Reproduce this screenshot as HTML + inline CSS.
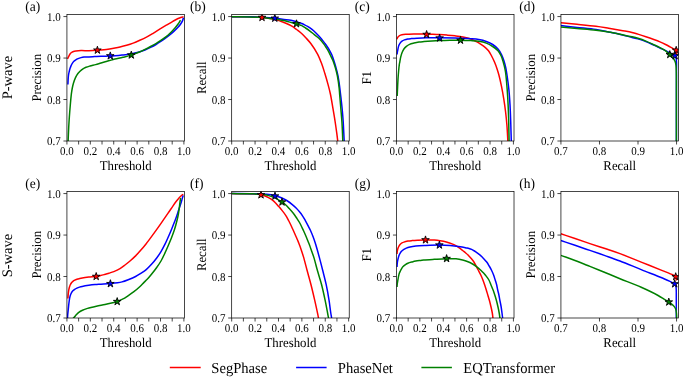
<!DOCTYPE html>
<html><head><meta charset="utf-8"><style>
html,body{margin:0;padding:0;background:#fff;}
svg{display:block;will-change:transform;}
text{font-family:"Liberation Serif", serif;fill:#000;text-rendering:geometricPrecision;}
</style></head><body>
<svg width="685" height="378" viewBox="0 0 685 378">
<defs><clipPath id="cpa"><rect x="66.93" y="14.50" width="117.55" height="126.50"/></clipPath><clipPath id="cpb"><rect x="231.68" y="14.50" width="117.55" height="126.50"/></clipPath><clipPath id="cpc"><rect x="396.46" y="14.50" width="117.55" height="126.50"/></clipPath><clipPath id="cpd"><rect x="560.93" y="14.50" width="117.55" height="126.50"/></clipPath><clipPath id="cpe"><rect x="66.93" y="191.50" width="117.55" height="126.50"/></clipPath><clipPath id="cpf"><rect x="231.68" y="191.50" width="117.55" height="126.50"/></clipPath><clipPath id="cpg"><rect x="396.46" y="191.50" width="117.55" height="126.50"/></clipPath><clipPath id="cph"><rect x="560.93" y="191.50" width="117.55" height="126.50"/></clipPath></defs>
<g clip-path="url(#cpa)" fill="none" stroke-width="1.5" stroke-linejoin="round">
<path d="M67.50,58.80 C67.73,58.37 67.96,57.98 68.20,57.50 C68.49,56.93 68.77,56.22 69.10,55.60 C69.43,54.98 69.78,54.33 70.20,53.80 C70.59,53.31 70.99,52.87 71.50,52.50 C72.07,52.09 72.78,51.75 73.50,51.50 C74.27,51.24 75.02,51.14 76.00,51.00 C77.38,50.81 79.14,50.66 81.00,50.60 C83.35,50.52 86.29,50.75 89.00,50.70 C91.79,50.65 94.86,50.48 97.50,50.30 C99.81,50.14 101.92,49.94 104.00,49.70 C105.94,49.47 107.75,49.19 109.60,48.90 C111.42,48.62 113.24,48.32 115.00,48.00 C116.70,47.69 118.22,47.41 120.00,47.00 C122.05,46.53 124.41,45.95 126.60,45.30 C128.81,44.65 131.02,43.93 133.20,43.10 C135.42,42.26 137.60,41.29 139.80,40.30 C142.04,39.29 144.30,38.26 146.50,37.10 C148.73,35.93 150.91,34.61 153.10,33.30 C155.31,31.98 157.50,30.55 159.70,29.20 C161.90,27.85 164.10,26.52 166.30,25.20 C168.50,23.89 171.07,22.34 172.90,21.30 C174.18,20.57 175.09,20.05 176.20,19.50 C177.29,18.96 178.39,18.42 179.50,18.00 C180.59,17.59 182.07,17.20 182.80,17.00 C183.16,16.90 183.33,16.87 183.60,16.80" stroke="#ff0000"/>
<path d="M67.90,84.50 C68.00,82.50 68.07,80.30 68.20,78.50 C68.31,77.03 68.41,75.72 68.60,74.50 C68.76,73.45 68.97,72.57 69.20,71.60 C69.44,70.61 69.69,69.57 70.00,68.60 C70.30,67.67 70.61,66.77 71.00,65.90 C71.38,65.04 71.81,64.18 72.30,63.40 C72.78,62.65 73.30,61.91 73.90,61.30 C74.47,60.72 75.11,60.24 75.80,59.80 C76.51,59.34 77.27,58.96 78.10,58.60 C79.00,58.21 80.02,57.87 81.00,57.60 C81.98,57.33 82.87,57.12 84.00,57.00 C85.45,56.84 87.27,56.96 89.00,56.90 C90.86,56.83 92.83,56.70 94.80,56.60 C96.83,56.50 98.72,56.39 101.00,56.30 C103.81,56.19 107.82,56.13 110.40,56.00 C112.21,55.91 113.31,55.83 115.00,55.70 C117.09,55.54 119.87,55.30 122.00,55.10 C123.78,54.93 125.32,54.84 126.90,54.60 C128.41,54.37 129.92,53.96 131.30,53.70 C132.53,53.47 133.53,53.38 134.80,53.10 C136.37,52.75 138.29,52.22 140.00,51.70 C141.69,51.19 143.30,50.68 145.00,50.00 C146.83,49.27 148.76,48.32 150.60,47.40 C152.43,46.48 154.24,45.53 156.00,44.50 C157.77,43.47 159.47,42.36 161.20,41.20 C162.98,40.00 164.93,38.59 166.50,37.40 C167.80,36.41 168.76,35.63 170.00,34.60 C171.44,33.40 173.26,31.83 174.60,30.60 C175.69,29.60 176.55,28.82 177.50,27.80 C178.52,26.70 179.63,25.44 180.50,24.20 C181.32,23.03 182.11,21.75 182.60,20.60 C183.01,19.63 183.13,18.73 183.40,17.80" stroke="#0000ff"/>
<path d="M68.10,141.50 C68.20,139.00 68.30,136.41 68.40,134.00 C68.50,131.76 68.57,129.96 68.70,127.50 C68.88,124.25 69.13,119.96 69.40,116.20 C69.67,112.46 69.97,108.74 70.30,105.00 C70.63,101.24 71.00,96.82 71.40,93.70 C71.68,91.47 71.94,89.83 72.30,88.00 C72.64,86.27 72.99,84.68 73.50,83.00 C74.04,81.22 74.72,79.25 75.50,77.60 C76.21,76.11 77.06,74.63 77.90,73.50 C78.58,72.58 79.23,71.92 80.00,71.20 C80.79,70.45 81.64,69.73 82.60,69.10 C83.63,68.42 84.80,67.81 86.00,67.30 C87.26,66.77 88.54,66.42 90.00,66.00 C91.72,65.51 93.84,65.11 95.70,64.60 C97.51,64.11 99.18,63.53 101.00,63.00 C102.94,62.43 105.09,61.84 107.00,61.30 C108.74,60.81 110.54,60.30 112.00,59.90 C113.13,59.59 113.76,59.41 115.00,59.10 C117.00,58.60 120.23,57.95 122.90,57.30 C125.66,56.62 128.60,55.96 131.30,55.10 C133.89,54.28 136.44,53.29 138.80,52.30 C140.98,51.38 143.00,50.39 145.00,49.40 C146.92,48.45 148.76,47.48 150.60,46.50 C152.40,45.54 154.15,44.64 155.90,43.60 C157.69,42.54 159.45,41.40 161.20,40.20 C162.99,38.97 164.94,37.56 166.50,36.30 C167.81,35.24 168.94,34.18 170.00,33.20 C170.91,32.36 171.67,31.67 172.50,30.80 C173.40,29.85 174.28,28.80 175.20,27.70 C176.21,26.49 177.45,25.02 178.30,23.80 C178.99,22.81 179.57,21.64 180.00,21.00 C180.24,20.64 180.40,20.47 180.60,20.20" stroke="#008000"/>
<path d="M97.40,46.20 L96.50,48.96 L93.60,48.96 L95.95,50.67 L95.05,53.44 L97.40,51.73 L99.75,53.44 L98.85,50.67 L101.20,48.96 L98.30,48.96 Z" fill="#ff0000" stroke="#000" stroke-width="0.9" stroke-linejoin="miter"/>
<path d="M110.30,51.90 L109.40,54.66 L106.50,54.66 L108.85,56.37 L107.95,59.14 L110.30,57.43 L112.65,59.14 L111.75,56.37 L114.10,54.66 L111.20,54.66 Z" fill="#0000ff" stroke="#000" stroke-width="0.9" stroke-linejoin="miter"/>
<path d="M131.30,51.10 L130.40,53.86 L127.50,53.86 L129.85,55.57 L128.95,58.34 L131.30,56.63 L133.65,58.34 L132.75,55.57 L135.10,53.86 L132.20,53.86 Z" fill="#008000" stroke="#000" stroke-width="0.9" stroke-linejoin="miter"/>
</g>
<rect x="66.93" y="14.50" width="117.55" height="126.50" fill="none" stroke="#000" stroke-width="0.72"/>
<line x1="63.43" y1="141.00" x2="66.93" y2="141.00" stroke="#000" stroke-width="0.72"/>
<text transform="translate(60.73,145.30) scale(1,1.08)" text-anchor="end" font-size="11.0">0.7</text>
<line x1="63.43" y1="99.52" x2="66.93" y2="99.52" stroke="#000" stroke-width="0.72"/>
<text transform="translate(60.73,103.82) scale(1,1.08)" text-anchor="end" font-size="11.0">0.8</text>
<line x1="63.43" y1="58.05" x2="66.93" y2="58.05" stroke="#000" stroke-width="0.72"/>
<text transform="translate(60.73,62.35) scale(1,1.08)" text-anchor="end" font-size="11.0">0.9</text>
<line x1="63.43" y1="16.57" x2="66.93" y2="16.57" stroke="#000" stroke-width="0.72"/>
<text transform="translate(60.73,20.87) scale(1,1.08)" text-anchor="end" font-size="11.0">1.0</text>
<line x1="66.93" y1="141.00" x2="66.93" y2="144.50" stroke="#000" stroke-width="0.72"/>
<text transform="translate(66.93,155.20) scale(1,1.08)" text-anchor="middle" font-size="11.0">0.0</text>
<line x1="78.63" y1="141.00" x2="78.63" y2="144.50" stroke="#000" stroke-width="0.72"/>
<line x1="90.32" y1="141.00" x2="90.32" y2="144.50" stroke="#000" stroke-width="0.72"/>
<text transform="translate(90.32,155.20) scale(1,1.08)" text-anchor="middle" font-size="11.0">0.2</text>
<line x1="102.02" y1="141.00" x2="102.02" y2="144.50" stroke="#000" stroke-width="0.72"/>
<line x1="113.72" y1="141.00" x2="113.72" y2="144.50" stroke="#000" stroke-width="0.72"/>
<text transform="translate(113.72,155.20) scale(1,1.08)" text-anchor="middle" font-size="11.0">0.4</text>
<line x1="125.42" y1="141.00" x2="125.42" y2="144.50" stroke="#000" stroke-width="0.72"/>
<line x1="137.11" y1="141.00" x2="137.11" y2="144.50" stroke="#000" stroke-width="0.72"/>
<text transform="translate(137.11,155.20) scale(1,1.08)" text-anchor="middle" font-size="11.0">0.6</text>
<line x1="148.81" y1="141.00" x2="148.81" y2="144.50" stroke="#000" stroke-width="0.72"/>
<line x1="160.51" y1="141.00" x2="160.51" y2="144.50" stroke="#000" stroke-width="0.72"/>
<text transform="translate(160.51,155.20) scale(1,1.08)" text-anchor="middle" font-size="11.0">0.8</text>
<line x1="172.20" y1="141.00" x2="172.20" y2="144.50" stroke="#000" stroke-width="0.72"/>
<line x1="183.90" y1="141.00" x2="183.90" y2="144.50" stroke="#000" stroke-width="0.72"/>
<text transform="translate(183.90,155.20) scale(1,1.08)" text-anchor="middle" font-size="11.0">1.0</text>
<text transform="translate(125.71,169.80) scale(1,1.04)" text-anchor="middle" font-size="12.8">Threshold</text>
<text transform="translate(41.23,77.75) rotate(-90) scale(1,1.04)" text-anchor="middle" font-size="12.8">Precision</text>
<text transform="translate(25.33,11.30) scale(1,1.04)" font-size="13.5">(a)</text>
<g clip-path="url(#cpb)" fill="none" stroke-width="1.5" stroke-linejoin="round">
<path d="M231.70,16.80 C236.13,16.80 240.88,16.76 245.00,16.80 C248.57,16.84 251.98,16.86 255.00,17.00 C257.51,17.12 259.67,17.27 261.90,17.50 C264.00,17.71 265.92,17.98 268.00,18.30 C270.18,18.64 272.72,19.07 274.70,19.50 C276.30,19.85 277.53,20.13 279.00,20.60 C280.62,21.11 282.49,21.89 284.00,22.50 C285.28,23.02 286.35,23.47 287.50,24.00 C288.65,24.53 289.77,25.08 290.90,25.70 C292.07,26.34 293.26,27.03 294.40,27.80 C295.56,28.59 296.62,29.46 297.80,30.40 C299.11,31.45 300.56,32.57 301.90,33.80 C303.30,35.09 304.60,36.48 306.00,38.00 C307.56,39.69 309.14,41.29 310.80,43.50 C313.00,46.43 315.83,50.74 317.70,54.30 C319.38,57.50 320.51,60.61 321.70,63.80 C322.87,66.94 323.79,70.00 324.80,73.30 C325.89,76.85 327.04,80.83 328.00,84.40 C328.89,87.71 329.65,90.47 330.40,94.00 C331.31,98.26 332.10,103.54 332.90,108.20 C333.67,112.70 334.44,117.19 335.10,121.50 C335.73,125.57 336.32,129.81 336.80,133.40 C337.19,136.36 337.47,138.80 337.80,141.50" stroke="#ff0000"/>
<path d="M231.70,16.70 C237.80,16.73 244.54,16.69 250.00,16.80 C254.42,16.89 257.95,16.99 262.00,17.20 C266.15,17.42 271.48,17.78 274.60,18.10 C276.45,18.29 277.49,18.49 279.00,18.70 C280.61,18.92 282.20,19.16 284.00,19.40 C286.11,19.69 288.61,19.85 290.90,20.30 C293.21,20.75 295.82,21.50 297.80,22.10 C299.32,22.56 300.60,23.01 301.80,23.50 C302.83,23.92 303.66,24.33 304.60,24.80 C305.59,25.29 306.52,25.75 307.60,26.40 C308.95,27.22 310.59,28.29 312.00,29.40 C313.46,30.55 314.75,31.77 316.20,33.20 C317.90,34.88 319.96,37.06 321.50,38.90 C322.83,40.48 323.89,41.96 325.00,43.50 C326.08,45.00 327.18,46.55 328.10,48.00 C328.92,49.30 329.64,50.58 330.30,51.80 C330.89,52.90 331.42,53.90 331.90,55.00 C332.39,56.13 332.80,57.33 333.20,58.50 C333.60,59.66 333.93,60.79 334.30,62.00 C334.70,63.29 335.05,64.36 335.50,66.00 C336.21,68.58 337.30,72.50 338.00,76.00 C338.76,79.80 339.27,84.00 339.80,88.00 C340.33,92.00 340.79,96.38 341.20,100.00 C341.54,102.99 341.81,105.14 342.10,108.20 C342.48,112.10 342.91,117.19 343.20,121.50 C343.47,125.57 343.62,129.81 343.80,133.40 C343.95,136.36 344.07,138.80 344.20,141.50" stroke="#0000ff"/>
<path d="M231.70,16.70 C237.80,16.77 244.54,16.73 250.00,16.90 C254.42,17.03 258.41,17.21 262.00,17.50 C264.94,17.74 267.29,18.09 270.00,18.40 C272.79,18.72 275.98,18.98 278.50,19.40 C280.54,19.74 282.21,20.17 284.00,20.60 C285.71,21.01 287.43,21.48 289.00,21.90 C290.41,22.28 291.72,22.65 293.00,23.00 C294.18,23.32 295.35,23.62 296.40,23.90 C297.30,24.14 298.04,24.32 298.90,24.60 C299.84,24.91 300.80,25.21 301.80,25.70 C302.99,26.29 304.24,27.18 305.50,28.00 C306.84,28.87 308.21,29.76 309.60,30.80 C311.14,31.94 312.74,33.34 314.30,34.60 C315.84,35.84 317.43,36.88 318.90,38.30 C320.51,39.85 322.21,41.92 323.50,43.60 C324.57,44.99 325.35,46.28 326.20,47.60 C327.01,48.85 327.81,50.05 328.50,51.30 C329.17,52.52 329.66,53.67 330.30,55.00 C331.04,56.54 331.99,58.32 332.70,60.00 C333.39,61.65 333.95,63.33 334.50,65.00 C335.05,66.66 335.53,68.22 336.00,70.00 C336.53,72.02 337.04,74.03 337.50,76.50 C338.10,79.70 338.73,84.27 339.10,87.60 C339.40,90.31 339.47,92.18 339.70,95.00 C340.01,98.77 340.43,103.79 340.80,108.20 C341.17,112.62 341.61,117.19 341.90,121.50 C342.17,125.57 342.34,129.81 342.50,133.40 C342.63,136.36 342.70,138.80 342.80,141.50" stroke="#008000"/>
<path d="M262.00,13.50 L261.10,16.26 L258.20,16.26 L260.55,17.97 L259.65,20.74 L262.00,19.03 L264.35,20.74 L263.45,17.97 L265.80,16.26 L262.90,16.26 Z" fill="#ff0000" stroke="#000" stroke-width="0.9" stroke-linejoin="miter"/>
<path d="M274.80,14.30 L273.90,17.06 L271.00,17.06 L273.35,18.77 L272.45,21.54 L274.80,19.83 L277.15,21.54 L276.25,18.77 L278.60,17.06 L275.70,17.06 Z" fill="#0000ff" stroke="#000" stroke-width="0.9" stroke-linejoin="miter"/>
<path d="M296.50,19.80 L295.60,22.56 L292.70,22.56 L295.05,24.27 L294.15,27.04 L296.50,25.33 L298.85,27.04 L297.95,24.27 L300.30,22.56 L297.40,22.56 Z" fill="#008000" stroke="#000" stroke-width="0.9" stroke-linejoin="miter"/>
</g>
<rect x="231.68" y="14.50" width="117.55" height="126.50" fill="none" stroke="#000" stroke-width="0.72"/>
<line x1="228.18" y1="141.00" x2="231.68" y2="141.00" stroke="#000" stroke-width="0.72"/>
<text transform="translate(225.48,145.30) scale(1,1.08)" text-anchor="end" font-size="11.0">0.7</text>
<line x1="228.18" y1="99.52" x2="231.68" y2="99.52" stroke="#000" stroke-width="0.72"/>
<text transform="translate(225.48,103.82) scale(1,1.08)" text-anchor="end" font-size="11.0">0.8</text>
<line x1="228.18" y1="58.05" x2="231.68" y2="58.05" stroke="#000" stroke-width="0.72"/>
<text transform="translate(225.48,62.35) scale(1,1.08)" text-anchor="end" font-size="11.0">0.9</text>
<line x1="228.18" y1="16.57" x2="231.68" y2="16.57" stroke="#000" stroke-width="0.72"/>
<text transform="translate(225.48,20.87) scale(1,1.08)" text-anchor="end" font-size="11.0">1.0</text>
<line x1="231.68" y1="141.00" x2="231.68" y2="144.50" stroke="#000" stroke-width="0.72"/>
<text transform="translate(231.68,155.20) scale(1,1.08)" text-anchor="middle" font-size="11.0">0.0</text>
<line x1="243.38" y1="141.00" x2="243.38" y2="144.50" stroke="#000" stroke-width="0.72"/>
<line x1="255.07" y1="141.00" x2="255.07" y2="144.50" stroke="#000" stroke-width="0.72"/>
<text transform="translate(255.07,155.20) scale(1,1.08)" text-anchor="middle" font-size="11.0">0.2</text>
<line x1="266.77" y1="141.00" x2="266.77" y2="144.50" stroke="#000" stroke-width="0.72"/>
<line x1="278.47" y1="141.00" x2="278.47" y2="144.50" stroke="#000" stroke-width="0.72"/>
<text transform="translate(278.47,155.20) scale(1,1.08)" text-anchor="middle" font-size="11.0">0.4</text>
<line x1="290.17" y1="141.00" x2="290.17" y2="144.50" stroke="#000" stroke-width="0.72"/>
<line x1="301.86" y1="141.00" x2="301.86" y2="144.50" stroke="#000" stroke-width="0.72"/>
<text transform="translate(301.86,155.20) scale(1,1.08)" text-anchor="middle" font-size="11.0">0.6</text>
<line x1="313.56" y1="141.00" x2="313.56" y2="144.50" stroke="#000" stroke-width="0.72"/>
<line x1="325.26" y1="141.00" x2="325.26" y2="144.50" stroke="#000" stroke-width="0.72"/>
<text transform="translate(325.26,155.20) scale(1,1.08)" text-anchor="middle" font-size="11.0">0.8</text>
<line x1="336.95" y1="141.00" x2="336.95" y2="144.50" stroke="#000" stroke-width="0.72"/>
<line x1="348.65" y1="141.00" x2="348.65" y2="144.50" stroke="#000" stroke-width="0.72"/>
<text transform="translate(348.65,155.20) scale(1,1.08)" text-anchor="middle" font-size="11.0">1.0</text>
<text transform="translate(290.45,169.80) scale(1,1.04)" text-anchor="middle" font-size="12.8">Threshold</text>
<text transform="translate(205.98,77.75) rotate(-90) scale(1,1.04)" text-anchor="middle" font-size="12.8">Recall</text>
<text transform="translate(190.08,11.30) scale(1,1.04)" font-size="13.5">(b)</text>
<g clip-path="url(#cpc)" fill="none" stroke-width="1.5" stroke-linejoin="round">
<path d="M396.90,39.20 C397.07,38.80 397.21,38.39 397.40,38.00 C397.58,37.62 397.71,37.25 398.00,36.90 C398.38,36.45 398.98,35.94 399.60,35.60 C400.27,35.23 401.02,35.01 401.90,34.80 C403.04,34.53 404.34,34.43 405.90,34.30 C408.09,34.12 411.33,34.05 413.80,34.00 C415.99,33.96 417.89,33.98 420.00,34.00 C422.19,34.02 424.50,34.05 426.70,34.10 C428.83,34.15 430.89,34.22 433.00,34.30 C435.13,34.38 437.18,34.47 439.40,34.60 C441.83,34.74 444.44,34.90 447.00,35.10 C449.63,35.30 452.35,35.50 455.00,35.80 C457.65,36.10 460.27,36.37 462.90,36.90 C465.57,37.44 468.52,38.13 470.90,39.00 C472.94,39.74 474.75,40.74 476.40,41.60 C477.80,42.33 478.93,42.99 480.20,43.80 C481.53,44.65 482.88,45.52 484.20,46.60 C485.65,47.79 487.27,49.15 488.50,50.70 C489.75,52.28 490.61,54.13 491.60,56.00 C492.65,57.99 493.70,60.17 494.60,62.30 C495.49,64.41 496.28,66.56 497.00,68.70 C497.71,70.80 498.26,72.59 498.90,75.00 C499.74,78.17 500.66,82.24 501.45,86.10 C502.30,90.25 503.11,94.77 503.80,99.10 C504.49,103.40 505.08,107.69 505.60,112.00 C506.12,116.32 506.53,120.40 506.90,125.00 C507.31,130.17 507.57,136.00 507.90,141.50" stroke="#ff0000"/>
<path d="M397.10,54.50 C397.13,54.07 397.13,53.74 397.20,53.20 C397.32,52.26 397.63,50.66 397.90,49.40 C398.17,48.13 398.39,46.71 398.80,45.60 C399.15,44.66 399.56,43.84 400.10,43.10 C400.63,42.38 401.28,41.73 402.00,41.20 C402.74,40.66 403.60,40.26 404.50,39.90 C405.48,39.51 406.58,39.22 407.70,39.00 C408.90,38.77 410.12,38.72 411.50,38.60 C413.16,38.45 414.95,38.32 417.00,38.20 C419.61,38.05 422.62,37.87 425.90,37.80 C429.93,37.71 434.74,37.76 439.40,37.80 C444.41,37.85 449.78,37.93 455.00,38.10 C460.28,38.27 466.52,38.48 470.90,38.80 C473.99,39.02 476.22,39.14 478.80,39.60 C481.35,40.05 483.94,40.66 486.30,41.50 C488.56,42.31 490.75,43.23 492.70,44.50 C494.65,45.77 496.51,47.39 498.00,49.10 C499.42,50.74 500.51,52.56 501.50,54.50 C502.53,56.52 503.29,58.77 504.00,61.00 C504.73,63.27 505.30,65.66 505.80,68.00 C506.30,70.32 506.58,72.23 507.00,75.00 C507.60,79.02 508.40,84.86 508.90,89.80 C509.40,94.73 509.70,99.52 510.00,104.60 C510.31,110.00 510.49,115.47 510.70,121.30 C510.93,127.71 511.10,134.77 511.30,141.50" stroke="#0000ff"/>
<path d="M397.20,96.00 C397.33,93.00 397.46,89.90 397.60,87.00 C397.73,84.28 397.83,81.73 398.00,79.10 C398.17,76.47 398.37,73.71 398.60,71.20 C398.81,68.90 399.05,66.29 399.30,64.60 C399.46,63.53 399.61,63.00 399.80,62.00 C400.06,60.64 400.33,58.76 400.70,57.20 C401.06,55.69 401.45,54.19 402.00,52.80 C402.53,51.46 403.13,50.10 403.90,49.00 C404.61,47.99 405.46,47.16 406.40,46.40 C407.36,45.62 408.41,44.94 409.60,44.40 C410.91,43.81 412.48,43.48 414.00,43.10 C415.60,42.70 417.33,42.35 419.00,42.10 C420.66,41.85 422.14,41.76 424.00,41.60 C426.35,41.39 429.33,41.17 432.00,41.00 C434.67,40.83 437.18,40.71 440.00,40.60 C443.15,40.47 446.65,40.37 450.00,40.30 C453.38,40.23 456.76,40.15 460.20,40.20 C463.72,40.25 467.61,40.39 470.90,40.60 C473.74,40.78 476.22,40.88 478.80,41.30 C481.35,41.72 483.95,42.21 486.30,43.10 C488.58,43.96 490.72,45.21 492.70,46.50 C494.61,47.75 496.57,49.07 498.00,50.70 C499.37,52.26 500.33,54.11 501.20,56.00 C502.11,57.96 502.68,60.18 503.30,62.30 C503.92,64.41 504.46,66.57 504.90,68.70 C505.33,70.80 505.59,72.45 505.90,75.00 C506.38,78.89 506.83,84.86 507.20,89.80 C507.57,94.73 507.85,99.52 508.10,104.60 C508.36,110.00 508.54,115.47 508.70,121.30 C508.88,127.71 508.97,134.77 509.10,141.50" stroke="#008000"/>
<path d="M426.60,30.50 L425.70,33.26 L422.80,33.26 L425.15,34.97 L424.25,37.74 L426.60,36.03 L428.95,37.74 L428.05,34.97 L430.40,33.26 L427.50,33.26 Z" fill="#ff0000" stroke="#000" stroke-width="0.9" stroke-linejoin="miter"/>
<path d="M439.60,34.10 L438.70,36.86 L435.80,36.86 L438.15,38.57 L437.25,41.34 L439.60,39.63 L441.95,41.34 L441.05,38.57 L443.40,36.86 L440.50,36.86 Z" fill="#0000ff" stroke="#000" stroke-width="0.9" stroke-linejoin="miter"/>
<path d="M460.50,36.30 L459.60,39.06 L456.70,39.06 L459.05,40.77 L458.15,43.54 L460.50,41.83 L462.85,43.54 L461.95,40.77 L464.30,39.06 L461.40,39.06 Z" fill="#008000" stroke="#000" stroke-width="0.9" stroke-linejoin="miter"/>
</g>
<rect x="396.46" y="14.50" width="117.55" height="126.50" fill="none" stroke="#000" stroke-width="0.72"/>
<line x1="392.96" y1="141.00" x2="396.46" y2="141.00" stroke="#000" stroke-width="0.72"/>
<text transform="translate(390.26,145.30) scale(1,1.08)" text-anchor="end" font-size="11.0">0.7</text>
<line x1="392.96" y1="99.52" x2="396.46" y2="99.52" stroke="#000" stroke-width="0.72"/>
<text transform="translate(390.26,103.82) scale(1,1.08)" text-anchor="end" font-size="11.0">0.8</text>
<line x1="392.96" y1="58.05" x2="396.46" y2="58.05" stroke="#000" stroke-width="0.72"/>
<text transform="translate(390.26,62.35) scale(1,1.08)" text-anchor="end" font-size="11.0">0.9</text>
<line x1="392.96" y1="16.57" x2="396.46" y2="16.57" stroke="#000" stroke-width="0.72"/>
<text transform="translate(390.26,20.87) scale(1,1.08)" text-anchor="end" font-size="11.0">1.0</text>
<line x1="396.46" y1="141.00" x2="396.46" y2="144.50" stroke="#000" stroke-width="0.72"/>
<text transform="translate(396.46,155.20) scale(1,1.08)" text-anchor="middle" font-size="11.0">0.0</text>
<line x1="408.16" y1="141.00" x2="408.16" y2="144.50" stroke="#000" stroke-width="0.72"/>
<line x1="419.85" y1="141.00" x2="419.85" y2="144.50" stroke="#000" stroke-width="0.72"/>
<text transform="translate(419.85,155.20) scale(1,1.08)" text-anchor="middle" font-size="11.0">0.2</text>
<line x1="431.55" y1="141.00" x2="431.55" y2="144.50" stroke="#000" stroke-width="0.72"/>
<line x1="443.25" y1="141.00" x2="443.25" y2="144.50" stroke="#000" stroke-width="0.72"/>
<text transform="translate(443.25,155.20) scale(1,1.08)" text-anchor="middle" font-size="11.0">0.4</text>
<line x1="454.94" y1="141.00" x2="454.94" y2="144.50" stroke="#000" stroke-width="0.72"/>
<line x1="466.64" y1="141.00" x2="466.64" y2="144.50" stroke="#000" stroke-width="0.72"/>
<text transform="translate(466.64,155.20) scale(1,1.08)" text-anchor="middle" font-size="11.0">0.6</text>
<line x1="478.34" y1="141.00" x2="478.34" y2="144.50" stroke="#000" stroke-width="0.72"/>
<line x1="490.04" y1="141.00" x2="490.04" y2="144.50" stroke="#000" stroke-width="0.72"/>
<text transform="translate(490.04,155.20) scale(1,1.08)" text-anchor="middle" font-size="11.0">0.8</text>
<line x1="501.73" y1="141.00" x2="501.73" y2="144.50" stroke="#000" stroke-width="0.72"/>
<line x1="513.43" y1="141.00" x2="513.43" y2="144.50" stroke="#000" stroke-width="0.72"/>
<text transform="translate(513.43,155.20) scale(1,1.08)" text-anchor="middle" font-size="11.0">1.0</text>
<text transform="translate(455.23,169.80) scale(1,1.04)" text-anchor="middle" font-size="12.8">Threshold</text>
<text transform="translate(370.76,77.75) rotate(-90) scale(1,1.04)" text-anchor="middle" font-size="12.8">F1</text>
<text transform="translate(354.86,11.30) scale(1,1.04)" font-size="13.5">(c)</text>
<g clip-path="url(#cpd)" fill="none" stroke-width="1.5" stroke-linejoin="round">
<path d="M561.00,22.80 C566.33,23.30 571.44,23.75 577.00,24.30 C583.06,24.90 590.31,25.55 596.00,26.30 C600.67,26.91 604.47,27.60 608.70,28.30 C612.94,29.00 617.36,29.79 621.40,30.50 C625.09,31.15 629.00,31.70 632.00,32.40 C634.27,32.93 635.79,33.45 637.90,34.10 C640.37,34.86 643.25,35.80 645.90,36.70 C648.55,37.60 651.33,38.59 653.80,39.50 C656.00,40.31 658.00,41.05 660.00,41.90 C661.93,42.72 663.86,43.62 665.60,44.50 C667.17,45.29 668.68,46.16 670.00,46.90 C671.10,47.51 672.07,48.04 673.00,48.60 C673.83,49.10 674.74,49.51 675.30,50.10 C675.78,50.60 676.08,51.17 676.30,51.80 C676.53,52.47 676.50,53.27 676.60,54.00" stroke="#ff0000"/>
<path d="M561.00,25.60 C566.33,26.20 571.44,26.78 577.00,27.40 C583.06,28.08 590.32,28.63 596.00,29.50 C600.67,30.22 604.47,31.13 608.70,32.00 C612.94,32.87 617.37,33.76 621.40,34.70 C625.10,35.56 628.98,36.63 632.00,37.40 C634.25,37.97 635.80,38.28 637.90,38.90 C640.38,39.63 643.26,40.57 645.90,41.60 C648.57,42.64 651.33,43.98 653.80,45.10 C656.00,46.10 657.99,47.06 660.00,48.00 C661.91,48.89 663.77,49.69 665.60,50.60 C667.40,51.49 669.38,52.53 670.90,53.40 C672.08,54.07 673.17,54.63 674.00,55.30 C674.66,55.84 675.22,56.32 675.60,57.00 C676.00,57.71 676.15,58.59 676.30,59.50 C676.48,60.56 676.46,61.48 676.50,63.00 C676.57,65.80 676.47,70.78 676.45,75.00 C676.43,79.72 676.41,83.51 676.40,90.00 C676.38,102.03 676.40,124.33 676.40,141.50" stroke="#0000ff"/>
<path d="M561.00,26.90 C566.33,27.40 571.44,27.88 577.00,28.40 C583.06,28.97 590.31,29.51 596.00,30.20 C600.67,30.77 604.48,31.37 608.70,32.10 C612.94,32.83 617.36,33.78 621.40,34.60 C625.09,35.35 628.99,36.10 632.00,36.80 C634.26,37.32 635.80,37.67 637.90,38.30 C640.38,39.05 643.27,40.04 645.90,41.10 C648.57,42.17 651.33,43.54 653.80,44.70 C656.00,45.73 658.00,46.65 660.00,47.70 C661.93,48.72 663.92,49.70 665.60,50.90 C667.16,52.02 668.52,53.36 669.80,54.60 C670.97,55.73 672.09,56.82 673.00,58.00 C673.84,59.09 674.60,60.17 675.10,61.40 C675.61,62.66 675.80,63.97 676.00,65.50 C676.25,67.41 676.23,69.46 676.30,72.00 C676.40,75.59 676.38,79.14 676.40,85.00 C676.45,97.21 676.40,122.67 676.40,141.50" stroke="#008000"/>
<path d="M676.20,46.30 L675.30,49.06 L672.40,49.06 L674.75,50.77 L673.85,53.54 L676.20,51.83 L678.55,53.54 L677.65,50.77 L680.00,49.06 L677.10,49.06 Z" fill="#ff0000" stroke="#000" stroke-width="0.9" stroke-linejoin="miter"/>
<path d="M675.10,51.80 L674.20,54.56 L671.30,54.56 L673.65,56.27 L672.75,59.04 L675.10,57.33 L677.45,59.04 L676.55,56.27 L678.90,54.56 L676.00,54.56 Z" fill="#0000ff" stroke="#000" stroke-width="0.9" stroke-linejoin="miter"/>
<path d="M669.80,50.60 L668.90,53.36 L666.00,53.36 L668.35,55.07 L667.45,57.84 L669.80,56.13 L672.15,57.84 L671.25,55.07 L673.60,53.36 L670.70,53.36 Z" fill="#008000" stroke="#000" stroke-width="0.9" stroke-linejoin="miter"/>
</g>
<rect x="560.93" y="14.50" width="117.55" height="126.50" fill="none" stroke="#000" stroke-width="0.72"/>
<line x1="557.43" y1="141.00" x2="560.93" y2="141.00" stroke="#000" stroke-width="0.72"/>
<text transform="translate(554.73,145.30) scale(1,1.08)" text-anchor="end" font-size="11.0">0.7</text>
<line x1="557.43" y1="99.52" x2="560.93" y2="99.52" stroke="#000" stroke-width="0.72"/>
<text transform="translate(554.73,103.82) scale(1,1.08)" text-anchor="end" font-size="11.0">0.8</text>
<line x1="557.43" y1="58.05" x2="560.93" y2="58.05" stroke="#000" stroke-width="0.72"/>
<text transform="translate(554.73,62.35) scale(1,1.08)" text-anchor="end" font-size="11.0">0.9</text>
<line x1="557.43" y1="16.57" x2="560.93" y2="16.57" stroke="#000" stroke-width="0.72"/>
<text transform="translate(554.73,20.87) scale(1,1.08)" text-anchor="end" font-size="11.0">1.0</text>
<line x1="560.93" y1="141.00" x2="560.93" y2="144.50" stroke="#000" stroke-width="0.72"/>
<text transform="translate(560.93,155.20) scale(1,1.08)" text-anchor="middle" font-size="11.0">0.7</text>
<line x1="599.47" y1="141.00" x2="599.47" y2="144.50" stroke="#000" stroke-width="0.72"/>
<text transform="translate(599.47,155.20) scale(1,1.08)" text-anchor="middle" font-size="11.0">0.8</text>
<line x1="638.01" y1="141.00" x2="638.01" y2="144.50" stroke="#000" stroke-width="0.72"/>
<text transform="translate(638.01,155.20) scale(1,1.08)" text-anchor="middle" font-size="11.0">0.9</text>
<line x1="676.55" y1="141.00" x2="676.55" y2="144.50" stroke="#000" stroke-width="0.72"/>
<text transform="translate(676.55,155.20) scale(1,1.08)" text-anchor="middle" font-size="11.0">1.0</text>
<text transform="translate(619.70,169.80) scale(1,1.04)" text-anchor="middle" font-size="12.8">Recall</text>
<text transform="translate(535.23,77.75) rotate(-90) scale(1,1.04)" text-anchor="middle" font-size="12.8">Precision</text>
<text transform="translate(519.33,11.30) scale(1,1.04)" font-size="13.5">(d)</text>
<text transform="translate(11.90,77.55) rotate(-90)" text-anchor="middle" font-size="14.5">P-wave</text>
<g clip-path="url(#cpe)" fill="none" stroke-width="1.5" stroke-linejoin="round">
<path d="M67.90,298.50 C68.00,297.17 68.07,295.85 68.20,294.50 C68.33,293.12 68.48,291.59 68.70,290.30 C68.89,289.18 69.11,288.16 69.40,287.20 C69.66,286.34 69.94,285.55 70.30,284.80 C70.64,284.09 71.05,283.40 71.50,282.80 C71.92,282.24 72.37,281.74 72.90,281.30 C73.46,280.84 74.13,280.43 74.80,280.10 C75.47,279.77 76.16,279.54 76.90,279.30 C77.71,279.04 78.62,278.82 79.50,278.60 C80.39,278.38 81.10,278.20 82.20,278.00 C83.91,277.69 86.53,277.35 88.80,277.10 C91.19,276.84 94.07,276.81 96.20,276.50 C97.84,276.26 99.09,275.94 100.50,275.60 C101.89,275.27 103.21,274.89 104.60,274.50 C106.04,274.09 107.51,273.67 109.00,273.20 C110.57,272.71 112.12,272.28 113.80,271.60 C115.76,270.80 118.09,269.74 120.00,268.60 C121.81,267.52 123.33,266.28 125.00,265.00 C126.76,263.65 128.55,262.20 130.30,260.70 C132.09,259.17 133.87,257.62 135.60,255.90 C137.41,254.10 139.16,252.10 140.90,250.10 C142.69,248.04 144.69,245.61 146.20,243.70 C147.39,242.20 148.13,241.16 149.30,239.60 C150.84,237.54 152.75,234.96 154.60,232.40 C156.69,229.51 159.00,226.24 161.20,223.10 C163.44,219.91 165.80,216.46 167.90,213.40 C169.78,210.66 171.66,207.81 173.20,205.60 C174.36,203.95 175.33,202.58 176.30,201.30 C177.11,200.23 177.89,199.23 178.60,198.40 C179.17,197.74 179.66,197.22 180.20,196.70 C180.70,196.22 181.18,195.80 181.70,195.40 C182.21,195.00 182.77,194.67 183.30,194.30" stroke="#ff0000"/>
<path d="M67.50,318.50 C67.57,317.33 67.60,316.32 67.70,315.00 C67.84,313.27 68.09,311.04 68.30,309.00 C68.52,306.88 68.76,304.42 69.00,302.50 C69.19,300.97 69.36,299.64 69.60,298.40 C69.80,297.34 70.00,296.44 70.30,295.50 C70.60,294.57 70.94,293.61 71.40,292.80 C71.82,292.05 72.34,291.39 72.90,290.80 C73.44,290.23 74.05,289.74 74.70,289.30 C75.38,288.84 76.12,288.46 76.90,288.10 C77.72,287.72 78.62,287.38 79.50,287.10 C80.38,286.82 81.10,286.63 82.20,286.40 C83.91,286.04 86.63,285.60 88.80,285.30 C90.90,285.01 92.95,284.78 95.00,284.60 C97.01,284.42 98.81,284.35 101.00,284.20 C103.63,284.02 106.88,283.84 109.70,283.60 C112.37,283.37 115.26,283.14 117.50,282.80 C119.21,282.54 120.40,282.34 122.00,281.90 C123.92,281.37 126.06,280.54 128.20,279.70 C130.57,278.77 133.37,277.65 135.60,276.50 C137.55,275.49 139.15,274.44 140.90,273.30 C142.69,272.14 144.49,271.03 146.20,269.60 C148.04,268.06 149.79,266.19 151.50,264.30 C153.29,262.33 155.10,260.15 156.70,258.00 C158.26,255.91 159.64,253.84 161.00,251.60 C162.42,249.26 163.75,246.71 165.00,244.20 C166.25,241.68 167.37,239.08 168.50,236.50 C169.63,233.92 170.66,231.47 171.80,228.70 C173.09,225.56 174.63,221.78 175.80,218.60 C176.83,215.79 177.67,213.09 178.50,210.60 C179.22,208.43 179.91,206.36 180.50,204.50 C180.99,202.94 181.41,201.52 181.80,200.20 C182.13,199.08 182.42,197.98 182.70,197.10 C182.91,196.45 183.10,195.97 183.30,195.40" stroke="#0000ff"/>
<path d="M73.00,318.50 C73.40,318.07 73.75,317.70 74.20,317.20 C74.81,316.53 75.56,315.60 76.30,314.80 C77.08,313.96 77.83,313.04 78.80,312.30 C79.87,311.49 81.14,310.82 82.50,310.20 C84.01,309.50 85.58,308.98 87.50,308.40 C90.01,307.64 93.37,306.87 96.30,306.20 C99.20,305.54 102.09,305.03 105.00,304.40 C107.93,303.76 111.53,302.92 113.80,302.40 C115.23,302.07 116.04,302.03 117.30,301.60 C118.89,301.06 120.77,300.13 122.50,299.20 C124.34,298.21 126.15,297.01 128.00,295.80 C129.95,294.52 131.95,293.20 133.90,291.70 C135.96,290.12 138.21,288.17 140.00,286.50 C141.51,285.09 142.73,283.66 144.00,282.40 C145.12,281.29 146.08,280.49 147.20,279.30 C148.56,277.86 150.03,276.12 151.50,274.30 C153.18,272.23 155.08,269.77 156.70,267.50 C158.24,265.34 159.66,263.33 161.00,261.00 C162.44,258.49 163.74,255.60 165.00,252.90 C166.23,250.26 167.42,247.51 168.50,245.00 C169.47,242.73 170.28,240.85 171.20,238.50 C172.27,235.75 173.52,232.56 174.50,229.50 C175.49,226.40 176.43,222.74 177.10,220.00 C177.61,217.93 177.95,216.38 178.30,214.50 C178.66,212.55 178.92,210.54 179.20,208.50 C179.49,206.38 179.74,203.90 180.00,202.00 C180.20,200.50 180.40,199.33 180.60,198.00" stroke="#008000"/>
<path d="M96.20,272.50 L95.30,275.26 L92.40,275.26 L94.75,276.97 L93.85,279.74 L96.20,278.03 L98.55,279.74 L97.65,276.97 L100.00,275.26 L97.10,275.26 Z" fill="#ff0000" stroke="#000" stroke-width="0.9" stroke-linejoin="miter"/>
<path d="M110.40,279.70 L109.50,282.46 L106.60,282.46 L108.95,284.17 L108.05,286.94 L110.40,285.23 L112.75,286.94 L111.85,284.17 L114.20,282.46 L111.30,282.46 Z" fill="#0000ff" stroke="#000" stroke-width="0.9" stroke-linejoin="miter"/>
<path d="M117.20,297.60 L116.30,300.36 L113.40,300.36 L115.75,302.07 L114.85,304.84 L117.20,303.13 L119.55,304.84 L118.65,302.07 L121.00,300.36 L118.10,300.36 Z" fill="#008000" stroke="#000" stroke-width="0.9" stroke-linejoin="miter"/>
</g>
<rect x="66.93" y="191.50" width="117.55" height="126.50" fill="none" stroke="#000" stroke-width="0.72"/>
<line x1="63.43" y1="318.00" x2="66.93" y2="318.00" stroke="#000" stroke-width="0.72"/>
<text transform="translate(60.73,322.30) scale(1,1.08)" text-anchor="end" font-size="11.0">0.7</text>
<line x1="63.43" y1="276.52" x2="66.93" y2="276.52" stroke="#000" stroke-width="0.72"/>
<text transform="translate(60.73,280.82) scale(1,1.08)" text-anchor="end" font-size="11.0">0.8</text>
<line x1="63.43" y1="235.05" x2="66.93" y2="235.05" stroke="#000" stroke-width="0.72"/>
<text transform="translate(60.73,239.35) scale(1,1.08)" text-anchor="end" font-size="11.0">0.9</text>
<line x1="63.43" y1="193.57" x2="66.93" y2="193.57" stroke="#000" stroke-width="0.72"/>
<text transform="translate(60.73,197.88) scale(1,1.08)" text-anchor="end" font-size="11.0">1.0</text>
<line x1="66.93" y1="318.00" x2="66.93" y2="321.50" stroke="#000" stroke-width="0.72"/>
<text transform="translate(66.93,332.20) scale(1,1.08)" text-anchor="middle" font-size="11.0">0.0</text>
<line x1="78.63" y1="318.00" x2="78.63" y2="321.50" stroke="#000" stroke-width="0.72"/>
<line x1="90.32" y1="318.00" x2="90.32" y2="321.50" stroke="#000" stroke-width="0.72"/>
<text transform="translate(90.32,332.20) scale(1,1.08)" text-anchor="middle" font-size="11.0">0.2</text>
<line x1="102.02" y1="318.00" x2="102.02" y2="321.50" stroke="#000" stroke-width="0.72"/>
<line x1="113.72" y1="318.00" x2="113.72" y2="321.50" stroke="#000" stroke-width="0.72"/>
<text transform="translate(113.72,332.20) scale(1,1.08)" text-anchor="middle" font-size="11.0">0.4</text>
<line x1="125.42" y1="318.00" x2="125.42" y2="321.50" stroke="#000" stroke-width="0.72"/>
<line x1="137.11" y1="318.00" x2="137.11" y2="321.50" stroke="#000" stroke-width="0.72"/>
<text transform="translate(137.11,332.20) scale(1,1.08)" text-anchor="middle" font-size="11.0">0.6</text>
<line x1="148.81" y1="318.00" x2="148.81" y2="321.50" stroke="#000" stroke-width="0.72"/>
<line x1="160.51" y1="318.00" x2="160.51" y2="321.50" stroke="#000" stroke-width="0.72"/>
<text transform="translate(160.51,332.20) scale(1,1.08)" text-anchor="middle" font-size="11.0">0.8</text>
<line x1="172.20" y1="318.00" x2="172.20" y2="321.50" stroke="#000" stroke-width="0.72"/>
<line x1="183.90" y1="318.00" x2="183.90" y2="321.50" stroke="#000" stroke-width="0.72"/>
<text transform="translate(183.90,332.20) scale(1,1.08)" text-anchor="middle" font-size="11.0">1.0</text>
<text transform="translate(125.71,346.80) scale(1,1.04)" text-anchor="middle" font-size="12.8">Threshold</text>
<text transform="translate(41.23,254.75) rotate(-90) scale(1,1.04)" text-anchor="middle" font-size="12.8">Precision</text>
<text transform="translate(25.33,188.30) scale(1,1.04)" font-size="13.5">(e)</text>
<g clip-path="url(#cpf)" fill="none" stroke-width="1.5" stroke-linejoin="round">
<path d="M231.70,193.60 C236.13,193.63 240.88,193.64 245.00,193.70 C248.57,193.75 252.09,193.73 255.00,193.90 C257.26,194.04 259.29,194.10 261.00,194.50 C262.35,194.81 263.30,195.31 264.50,195.80 C265.80,196.33 267.19,196.90 268.50,197.60 C269.86,198.33 271.29,199.17 272.50,200.10 C273.65,200.98 274.58,201.96 275.60,203.00 C276.68,204.11 277.71,205.34 278.80,206.60 C279.97,207.96 281.24,209.44 282.40,210.90 C283.54,212.34 284.68,213.74 285.70,215.30 C286.76,216.93 287.67,218.73 288.60,220.50 C289.54,222.30 290.42,224.13 291.30,226.00 C292.19,227.90 293.06,229.92 293.90,231.80 C294.69,233.58 295.46,235.32 296.20,237.00 C296.89,238.58 297.59,240.09 298.20,241.60 C298.78,243.03 299.26,244.32 299.80,245.80 C300.39,247.44 301.00,249.21 301.60,251.00 C302.24,252.90 302.80,254.51 303.50,256.90 C304.57,260.54 305.95,266.17 307.20,270.80 C308.45,275.44 309.77,279.90 311.00,284.70 C312.31,289.81 313.63,295.48 314.80,300.60 C315.89,305.36 317.13,311.15 317.80,314.40 C318.16,316.17 318.33,317.13 318.60,318.50" stroke="#ff0000"/>
<path d="M231.70,193.50 C237.80,193.57 244.02,193.56 250.00,193.70 C255.75,193.83 262.34,193.85 266.90,194.30 C270.04,194.61 272.46,195.03 274.80,195.60 C276.73,196.07 278.40,196.69 280.00,197.30 C281.41,197.84 282.64,198.38 283.90,199.00 C285.14,199.61 286.24,200.18 287.50,201.00 C289.02,201.98 290.82,203.38 292.30,204.60 C293.67,205.72 294.87,206.76 296.10,208.00 C297.41,209.31 298.78,210.92 299.90,212.30 C300.88,213.51 301.66,214.54 302.50,215.80 C303.43,217.18 304.28,218.68 305.20,220.30 C306.24,222.14 307.46,224.47 308.40,226.30 C309.18,227.82 309.79,228.94 310.50,230.50 C311.35,232.37 312.26,234.56 313.10,236.80 C314.03,239.29 314.89,241.85 315.80,244.80 C316.91,248.40 318.07,252.72 319.20,256.90 C320.41,261.37 321.63,266.16 322.80,270.80 C323.97,275.43 325.18,279.90 326.20,284.70 C327.29,289.81 328.32,295.67 329.10,300.60 C329.77,304.85 330.20,309.21 330.70,312.50 C331.05,314.84 331.37,316.50 331.70,318.50" stroke="#0000ff"/>
<path d="M231.70,193.60 C237.80,193.67 244.54,193.66 250.00,193.80 C254.42,193.92 258.70,193.93 262.00,194.30 C264.35,194.56 265.92,194.83 268.00,195.40 C270.36,196.04 273.06,196.98 275.40,198.10 C277.72,199.21 280.20,200.90 282.00,202.10 C283.31,202.97 284.19,203.54 285.30,204.50 C286.59,205.62 287.91,207.08 289.20,208.50 C290.57,210.01 292.04,211.68 293.30,213.30 C294.50,214.85 295.55,216.44 296.60,218.00 C297.61,219.51 298.61,220.94 299.50,222.50 C300.41,224.10 301.23,225.92 302.00,227.50 C302.68,228.90 303.23,230.03 303.90,231.50 C304.71,233.29 305.75,235.70 306.50,237.50 C307.11,238.96 307.58,240.18 308.10,241.50 C308.61,242.78 309.08,243.90 309.60,245.30 C310.23,247.00 310.92,249.08 311.60,251.00 C312.29,252.95 312.95,254.50 313.70,256.90 C314.84,260.54 316.19,266.17 317.50,270.80 C318.82,275.44 320.35,279.89 321.60,284.70 C322.93,289.80 324.17,295.68 325.20,300.60 C326.09,304.85 326.88,309.20 327.50,312.50 C327.94,314.84 328.23,316.50 328.60,318.50" stroke="#008000"/>
<path d="M261.00,190.90 L260.10,193.66 L257.20,193.66 L259.55,195.37 L258.65,198.14 L261.00,196.43 L263.35,198.14 L262.45,195.37 L264.80,193.66 L261.90,193.66 Z" fill="#ff0000" stroke="#000" stroke-width="0.9" stroke-linejoin="miter"/>
<path d="M275.00,192.10 L274.10,194.86 L271.20,194.86 L273.55,196.57 L272.65,199.34 L275.00,197.63 L277.35,199.34 L276.45,196.57 L278.80,194.86 L275.90,194.86 Z" fill="#0000ff" stroke="#000" stroke-width="0.9" stroke-linejoin="miter"/>
<path d="M282.00,198.10 L281.10,200.86 L278.20,200.86 L280.55,202.57 L279.65,205.34 L282.00,203.63 L284.35,205.34 L283.45,202.57 L285.80,200.86 L282.90,200.86 Z" fill="#008000" stroke="#000" stroke-width="0.9" stroke-linejoin="miter"/>
</g>
<rect x="231.68" y="191.50" width="117.55" height="126.50" fill="none" stroke="#000" stroke-width="0.72"/>
<line x1="228.18" y1="318.00" x2="231.68" y2="318.00" stroke="#000" stroke-width="0.72"/>
<text transform="translate(225.48,322.30) scale(1,1.08)" text-anchor="end" font-size="11.0">0.7</text>
<line x1="228.18" y1="276.52" x2="231.68" y2="276.52" stroke="#000" stroke-width="0.72"/>
<text transform="translate(225.48,280.82) scale(1,1.08)" text-anchor="end" font-size="11.0">0.8</text>
<line x1="228.18" y1="235.05" x2="231.68" y2="235.05" stroke="#000" stroke-width="0.72"/>
<text transform="translate(225.48,239.35) scale(1,1.08)" text-anchor="end" font-size="11.0">0.9</text>
<line x1="228.18" y1="193.57" x2="231.68" y2="193.57" stroke="#000" stroke-width="0.72"/>
<text transform="translate(225.48,197.88) scale(1,1.08)" text-anchor="end" font-size="11.0">1.0</text>
<line x1="231.68" y1="318.00" x2="231.68" y2="321.50" stroke="#000" stroke-width="0.72"/>
<text transform="translate(231.68,332.20) scale(1,1.08)" text-anchor="middle" font-size="11.0">0.0</text>
<line x1="243.38" y1="318.00" x2="243.38" y2="321.50" stroke="#000" stroke-width="0.72"/>
<line x1="255.07" y1="318.00" x2="255.07" y2="321.50" stroke="#000" stroke-width="0.72"/>
<text transform="translate(255.07,332.20) scale(1,1.08)" text-anchor="middle" font-size="11.0">0.2</text>
<line x1="266.77" y1="318.00" x2="266.77" y2="321.50" stroke="#000" stroke-width="0.72"/>
<line x1="278.47" y1="318.00" x2="278.47" y2="321.50" stroke="#000" stroke-width="0.72"/>
<text transform="translate(278.47,332.20) scale(1,1.08)" text-anchor="middle" font-size="11.0">0.4</text>
<line x1="290.17" y1="318.00" x2="290.17" y2="321.50" stroke="#000" stroke-width="0.72"/>
<line x1="301.86" y1="318.00" x2="301.86" y2="321.50" stroke="#000" stroke-width="0.72"/>
<text transform="translate(301.86,332.20) scale(1,1.08)" text-anchor="middle" font-size="11.0">0.6</text>
<line x1="313.56" y1="318.00" x2="313.56" y2="321.50" stroke="#000" stroke-width="0.72"/>
<line x1="325.26" y1="318.00" x2="325.26" y2="321.50" stroke="#000" stroke-width="0.72"/>
<text transform="translate(325.26,332.20) scale(1,1.08)" text-anchor="middle" font-size="11.0">0.8</text>
<line x1="336.95" y1="318.00" x2="336.95" y2="321.50" stroke="#000" stroke-width="0.72"/>
<line x1="348.65" y1="318.00" x2="348.65" y2="321.50" stroke="#000" stroke-width="0.72"/>
<text transform="translate(348.65,332.20) scale(1,1.08)" text-anchor="middle" font-size="11.0">1.0</text>
<text transform="translate(290.45,346.80) scale(1,1.04)" text-anchor="middle" font-size="12.8">Threshold</text>
<text transform="translate(205.98,254.75) rotate(-90) scale(1,1.04)" text-anchor="middle" font-size="12.8">Recall</text>
<text transform="translate(190.08,188.30) scale(1,1.04)" font-size="13.5">(f)</text>
<g clip-path="url(#cpg)" fill="none" stroke-width="1.5" stroke-linejoin="round">
<path d="M397.00,254.00 C397.10,253.00 397.13,251.98 397.30,251.00 C397.47,250.04 397.69,249.08 398.00,248.20 C398.30,247.35 398.68,246.50 399.10,245.80 C399.46,245.19 399.83,244.68 400.30,244.20 C400.79,243.71 401.39,243.25 402.00,242.90 C402.60,242.55 403.14,242.35 403.90,242.10 C404.98,241.74 406.55,241.35 407.90,241.10 C409.25,240.85 410.54,240.74 412.00,240.60 C413.67,240.44 415.42,240.31 417.40,240.20 C419.83,240.07 422.74,239.92 425.50,239.90 C428.37,239.88 431.69,239.93 434.30,240.10 C436.41,240.23 438.06,240.41 440.00,240.70 C442.05,241.00 444.21,241.35 446.30,241.90 C448.45,242.47 450.79,243.28 452.70,244.10 C454.33,244.80 455.71,245.55 457.10,246.40 C458.44,247.22 459.79,248.27 460.90,249.10 C461.80,249.78 462.52,250.37 463.30,251.00 C464.05,251.61 464.76,252.18 465.50,252.80 C466.26,253.44 467.01,254.03 467.80,254.80 C468.74,255.72 469.75,256.90 470.70,258.00 C471.68,259.13 472.60,260.02 473.60,261.50 C475.06,263.66 476.89,267.54 478.20,270.00 C479.20,271.88 480.01,273.32 480.80,275.00 C481.57,276.65 482.25,278.32 482.90,280.00 C483.55,281.66 484.13,283.33 484.70,285.00 C485.26,286.66 485.78,288.33 486.30,290.00 C486.82,291.66 487.30,293.33 487.80,295.00 C488.30,296.67 488.82,298.25 489.30,300.00 C489.82,301.90 490.32,303.92 490.80,306.00 C491.32,308.24 491.92,310.80 492.30,313.00 C492.63,314.94 492.77,316.67 493.00,318.50" stroke="#ff0000"/>
<path d="M397.00,267.00 C397.10,265.67 397.16,264.19 397.30,263.00 C397.41,262.04 397.53,261.29 397.70,260.40 C397.89,259.46 398.15,258.41 398.40,257.50 C398.62,256.69 398.80,255.94 399.10,255.20 C399.40,254.47 399.79,253.76 400.20,253.10 C400.59,252.46 400.98,251.86 401.50,251.30 C402.06,250.69 402.75,250.11 403.50,249.60 C404.33,249.04 405.28,248.52 406.30,248.10 C407.43,247.64 408.62,247.31 410.00,247.00 C411.71,246.62 413.59,246.34 415.80,246.10 C418.70,245.79 422.29,245.66 425.90,245.50 C430.07,245.31 435.17,245.10 439.40,245.10 C443.15,245.10 446.50,245.11 450.00,245.40 C453.47,245.68 457.38,246.32 460.30,246.80 C462.48,247.16 464.40,247.59 466.00,247.90 C467.16,248.13 468.04,248.24 469.00,248.50 C469.91,248.75 470.73,249.01 471.60,249.40 C472.56,249.83 473.54,250.40 474.50,251.00 C475.51,251.63 476.52,252.37 477.50,253.10 C478.49,253.84 479.44,254.56 480.40,255.40 C481.44,256.31 482.48,257.33 483.50,258.40 C484.58,259.53 485.75,260.73 486.70,262.00 C487.64,263.26 488.41,264.66 489.20,266.00 C489.98,267.32 490.70,268.58 491.40,270.00 C492.17,271.56 492.96,273.32 493.60,275.00 C494.23,276.65 494.68,278.33 495.20,280.00 C495.72,281.66 496.28,283.32 496.70,285.00 C497.11,286.66 497.33,288.34 497.70,290.00 C498.07,291.67 498.55,293.33 498.90,295.00 C499.25,296.66 499.47,298.26 499.80,300.00 C500.16,301.91 500.64,303.92 501.00,306.00 C501.38,308.24 501.70,310.81 502.00,313.00 C502.26,314.94 502.47,316.67 502.70,318.50" stroke="#0000ff"/>
<path d="M397.00,287.00 C397.10,285.83 397.17,284.55 397.30,283.50 C397.41,282.62 397.53,282.06 397.70,281.10 C397.95,279.66 398.37,277.17 398.70,275.70 C398.93,274.67 399.11,273.90 399.40,273.10 C399.66,272.38 399.97,271.78 400.30,271.10 C400.66,270.36 401.04,269.54 401.50,268.80 C401.97,268.04 402.46,267.28 403.10,266.60 C403.78,265.87 404.68,265.18 405.50,264.60 C406.28,264.05 406.95,263.61 407.90,263.20 C409.12,262.67 410.91,262.26 412.30,261.90 C413.53,261.58 414.52,261.33 415.80,261.10 C417.31,260.82 419.36,260.60 420.80,260.40 C421.90,260.25 422.43,260.13 423.70,260.00 C426.12,259.75 430.66,259.51 434.30,259.30 C438.15,259.08 442.42,258.78 446.20,258.70 C449.62,258.63 453.07,258.52 456.00,258.80 C458.43,259.03 460.53,259.47 462.60,260.00 C464.51,260.49 466.29,261.11 468.00,261.80 C469.62,262.45 471.13,263.16 472.60,264.00 C474.06,264.83 475.45,265.78 476.80,266.80 C478.18,267.84 479.61,269.10 480.80,270.20 C481.84,271.16 482.75,272.07 483.60,273.00 C484.37,273.84 484.95,274.53 485.70,275.50 C486.68,276.76 488.01,278.41 488.90,280.00 C489.78,281.58 490.30,283.33 491.00,285.00 C491.70,286.67 492.46,288.32 493.10,290.00 C493.73,291.66 494.27,293.33 494.80,295.00 C495.33,296.66 495.81,298.22 496.30,300.00 C496.85,302.02 497.42,304.33 497.90,306.50 C498.38,308.66 498.84,310.92 499.20,313.00 C499.53,314.91 499.73,316.67 500.00,318.50" stroke="#008000"/>
<path d="M425.50,235.90 L424.60,238.66 L421.70,238.66 L424.05,240.37 L423.15,243.14 L425.50,241.43 L427.85,243.14 L426.95,240.37 L429.30,238.66 L426.40,238.66 Z" fill="#ff0000" stroke="#000" stroke-width="0.9" stroke-linejoin="miter"/>
<path d="M439.40,241.10 L438.50,243.86 L435.60,243.86 L437.95,245.57 L437.05,248.34 L439.40,246.63 L441.75,248.34 L440.85,245.57 L443.20,243.86 L440.30,243.86 Z" fill="#0000ff" stroke="#000" stroke-width="0.9" stroke-linejoin="miter"/>
<path d="M446.60,254.60 L445.70,257.36 L442.80,257.36 L445.15,259.07 L444.25,261.84 L446.60,260.13 L448.95,261.84 L448.05,259.07 L450.40,257.36 L447.50,257.36 Z" fill="#008000" stroke="#000" stroke-width="0.9" stroke-linejoin="miter"/>
</g>
<rect x="396.46" y="191.50" width="117.55" height="126.50" fill="none" stroke="#000" stroke-width="0.72"/>
<line x1="392.96" y1="318.00" x2="396.46" y2="318.00" stroke="#000" stroke-width="0.72"/>
<text transform="translate(390.26,322.30) scale(1,1.08)" text-anchor="end" font-size="11.0">0.7</text>
<line x1="392.96" y1="276.52" x2="396.46" y2="276.52" stroke="#000" stroke-width="0.72"/>
<text transform="translate(390.26,280.82) scale(1,1.08)" text-anchor="end" font-size="11.0">0.8</text>
<line x1="392.96" y1="235.05" x2="396.46" y2="235.05" stroke="#000" stroke-width="0.72"/>
<text transform="translate(390.26,239.35) scale(1,1.08)" text-anchor="end" font-size="11.0">0.9</text>
<line x1="392.96" y1="193.57" x2="396.46" y2="193.57" stroke="#000" stroke-width="0.72"/>
<text transform="translate(390.26,197.88) scale(1,1.08)" text-anchor="end" font-size="11.0">1.0</text>
<line x1="396.46" y1="318.00" x2="396.46" y2="321.50" stroke="#000" stroke-width="0.72"/>
<text transform="translate(396.46,332.20) scale(1,1.08)" text-anchor="middle" font-size="11.0">0.0</text>
<line x1="408.16" y1="318.00" x2="408.16" y2="321.50" stroke="#000" stroke-width="0.72"/>
<line x1="419.85" y1="318.00" x2="419.85" y2="321.50" stroke="#000" stroke-width="0.72"/>
<text transform="translate(419.85,332.20) scale(1,1.08)" text-anchor="middle" font-size="11.0">0.2</text>
<line x1="431.55" y1="318.00" x2="431.55" y2="321.50" stroke="#000" stroke-width="0.72"/>
<line x1="443.25" y1="318.00" x2="443.25" y2="321.50" stroke="#000" stroke-width="0.72"/>
<text transform="translate(443.25,332.20) scale(1,1.08)" text-anchor="middle" font-size="11.0">0.4</text>
<line x1="454.94" y1="318.00" x2="454.94" y2="321.50" stroke="#000" stroke-width="0.72"/>
<line x1="466.64" y1="318.00" x2="466.64" y2="321.50" stroke="#000" stroke-width="0.72"/>
<text transform="translate(466.64,332.20) scale(1,1.08)" text-anchor="middle" font-size="11.0">0.6</text>
<line x1="478.34" y1="318.00" x2="478.34" y2="321.50" stroke="#000" stroke-width="0.72"/>
<line x1="490.04" y1="318.00" x2="490.04" y2="321.50" stroke="#000" stroke-width="0.72"/>
<text transform="translate(490.04,332.20) scale(1,1.08)" text-anchor="middle" font-size="11.0">0.8</text>
<line x1="501.73" y1="318.00" x2="501.73" y2="321.50" stroke="#000" stroke-width="0.72"/>
<line x1="513.43" y1="318.00" x2="513.43" y2="321.50" stroke="#000" stroke-width="0.72"/>
<text transform="translate(513.43,332.20) scale(1,1.08)" text-anchor="middle" font-size="11.0">1.0</text>
<text transform="translate(455.23,346.80) scale(1,1.04)" text-anchor="middle" font-size="12.8">Threshold</text>
<text transform="translate(370.76,254.75) rotate(-90) scale(1,1.04)" text-anchor="middle" font-size="12.8">F1</text>
<text transform="translate(354.86,188.30) scale(1,1.04)" font-size="13.5">(g)</text>
<g clip-path="url(#cph)" fill="none" stroke-width="1.5" stroke-linejoin="round">
<path d="M560.90,233.80 C565.60,235.37 570.24,236.89 575.00,238.50 C579.90,240.16 584.91,241.94 589.90,243.60 C594.91,245.27 599.98,246.83 605.00,248.50 C610.01,250.17 614.60,251.60 620.00,253.60 C626.49,256.00 634.13,259.27 641.20,262.10 C648.27,264.93 656.55,268.21 662.40,270.60 C666.55,272.29 670.71,273.89 673.00,275.00 C674.14,275.56 674.97,275.76 675.50,276.40 C675.97,276.96 676.07,277.80 676.20,278.50 C676.33,279.17 676.27,279.83 676.30,280.50" stroke="#ff0000"/>
<path d="M560.90,240.50 C565.60,242.10 570.24,243.67 575.00,245.30 C579.90,246.97 584.92,248.69 589.90,250.40 C594.92,252.12 599.98,253.83 605.00,255.60 C610.01,257.37 614.59,258.93 620.00,261.00 C626.48,263.48 634.13,266.76 641.20,269.60 C648.26,272.43 657.12,275.78 662.40,278.00 C665.59,279.34 667.89,280.35 670.00,281.40 C671.56,282.18 673.00,282.80 674.00,283.60 C674.75,284.20 675.33,284.70 675.70,285.50 C676.14,286.44 676.09,287.67 676.20,289.00 C676.34,290.73 676.28,292.34 676.30,295.00 C676.34,300.26 676.30,310.67 676.30,318.50" stroke="#0000ff"/>
<path d="M560.90,255.40 C565.60,257.10 570.25,258.70 575.00,260.50 C579.91,262.36 584.92,264.41 589.90,266.40 C594.92,268.41 599.98,270.45 605.00,272.50 C610.01,274.55 614.56,276.47 620.00,278.70 C626.45,281.34 634.58,284.35 641.20,287.30 C647.20,289.97 653.96,293.24 658.10,295.50 C660.61,296.87 662.15,297.95 664.00,299.10 C665.66,300.14 667.28,301.17 668.70,302.10 C669.90,302.88 671.03,303.51 672.00,304.30 C672.88,305.02 673.68,305.80 674.30,306.60 C674.85,307.31 675.27,307.97 675.60,308.80 C675.97,309.74 676.13,310.90 676.30,312.00 C676.47,313.14 676.53,314.38 676.60,315.50 C676.66,316.54 676.67,317.50 676.70,318.50" stroke="#008000"/>
<path d="M675.70,272.70 L674.80,275.46 L671.90,275.46 L674.25,277.17 L673.35,279.94 L675.70,278.23 L678.05,279.94 L677.15,277.17 L679.50,275.46 L676.60,275.46 Z" fill="#ff0000" stroke="#000" stroke-width="0.9" stroke-linejoin="miter"/>
<path d="M674.70,279.90 L673.80,282.66 L670.90,282.66 L673.25,284.37 L672.35,287.14 L674.70,285.43 L677.05,287.14 L676.15,284.37 L678.50,282.66 L675.60,282.66 Z" fill="#0000ff" stroke="#000" stroke-width="0.9" stroke-linejoin="miter"/>
<path d="M668.80,298.10 L667.90,300.86 L665.00,300.86 L667.35,302.57 L666.45,305.34 L668.80,303.63 L671.15,305.34 L670.25,302.57 L672.60,300.86 L669.70,300.86 Z" fill="#008000" stroke="#000" stroke-width="0.9" stroke-linejoin="miter"/>
</g>
<rect x="560.93" y="191.50" width="117.55" height="126.50" fill="none" stroke="#000" stroke-width="0.72"/>
<line x1="557.43" y1="318.00" x2="560.93" y2="318.00" stroke="#000" stroke-width="0.72"/>
<text transform="translate(554.73,322.30) scale(1,1.08)" text-anchor="end" font-size="11.0">0.7</text>
<line x1="557.43" y1="276.52" x2="560.93" y2="276.52" stroke="#000" stroke-width="0.72"/>
<text transform="translate(554.73,280.82) scale(1,1.08)" text-anchor="end" font-size="11.0">0.8</text>
<line x1="557.43" y1="235.05" x2="560.93" y2="235.05" stroke="#000" stroke-width="0.72"/>
<text transform="translate(554.73,239.35) scale(1,1.08)" text-anchor="end" font-size="11.0">0.9</text>
<line x1="557.43" y1="193.57" x2="560.93" y2="193.57" stroke="#000" stroke-width="0.72"/>
<text transform="translate(554.73,197.88) scale(1,1.08)" text-anchor="end" font-size="11.0">1.0</text>
<line x1="560.93" y1="318.00" x2="560.93" y2="321.50" stroke="#000" stroke-width="0.72"/>
<text transform="translate(560.93,332.20) scale(1,1.08)" text-anchor="middle" font-size="11.0">0.7</text>
<line x1="599.47" y1="318.00" x2="599.47" y2="321.50" stroke="#000" stroke-width="0.72"/>
<text transform="translate(599.47,332.20) scale(1,1.08)" text-anchor="middle" font-size="11.0">0.8</text>
<line x1="638.01" y1="318.00" x2="638.01" y2="321.50" stroke="#000" stroke-width="0.72"/>
<text transform="translate(638.01,332.20) scale(1,1.08)" text-anchor="middle" font-size="11.0">0.9</text>
<line x1="676.55" y1="318.00" x2="676.55" y2="321.50" stroke="#000" stroke-width="0.72"/>
<text transform="translate(676.55,332.20) scale(1,1.08)" text-anchor="middle" font-size="11.0">1.0</text>
<text transform="translate(619.70,346.80) scale(1,1.04)" text-anchor="middle" font-size="12.8">Recall</text>
<text transform="translate(535.23,254.75) rotate(-90) scale(1,1.04)" text-anchor="middle" font-size="12.8">Precision</text>
<text transform="translate(519.33,188.30) scale(1,1.04)" font-size="13.5">(h)</text>
<text transform="translate(11.90,255.55) rotate(-90)" text-anchor="middle" font-size="14.5">S-wave</text>
<line x1="169.8" y1="367.5" x2="200.7" y2="367.5" stroke="#ff0000" stroke-width="1.5"/>
<text transform="translate(211.30,372.70) scale(1,1.04)" font-size="14.6">SegPhase</text>
<line x1="296.1" y1="367.5" x2="326.6" y2="367.5" stroke="#0000ff" stroke-width="1.5"/>
<text transform="translate(337.80,372.70) scale(1,1.04)" font-size="14.6">PhaseNet</text>
<line x1="421.4" y1="367.5" x2="451.9" y2="367.5" stroke="#008000" stroke-width="1.5"/>
<text transform="translate(463.30,372.70) scale(1,1.04)" font-size="14.6">EQTransformer</text>
</svg>
</body></html>
